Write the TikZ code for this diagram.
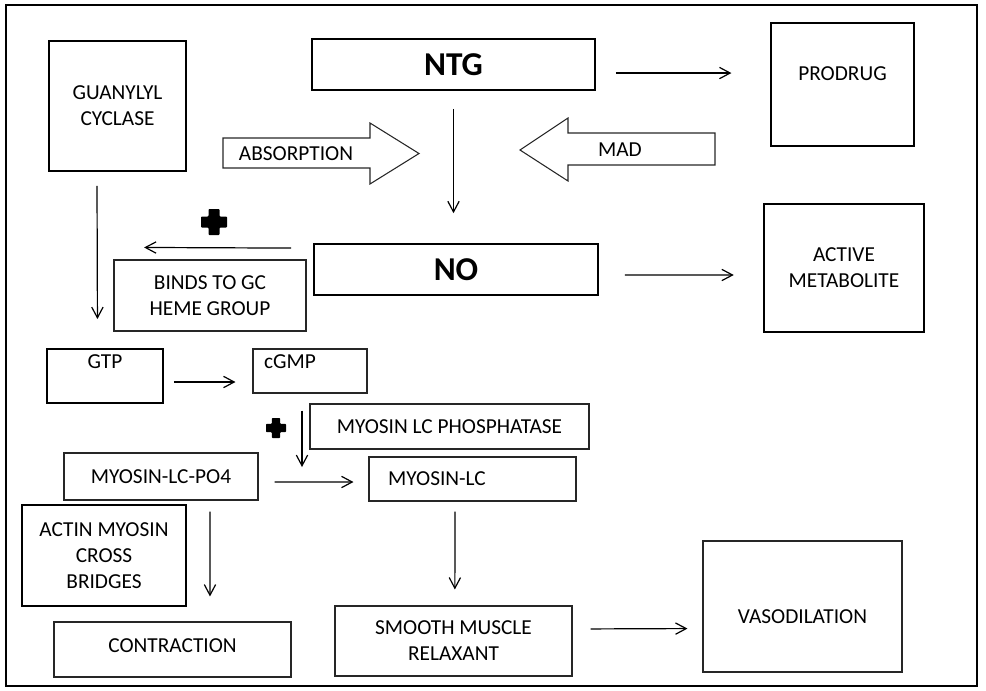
\documentclass[tikz,border=0pt]{standalone}
\usepackage{fontspec}
\setmainfont{Carlito}
\usetikzlibrary{arrows.meta, positioning, calc}

% filled "plus" mark: centre x, centre y, half size, half arm
\newcommand{\heavyplus}[4]{%
  \begin{scope}[shift={(#1,#2)}]
    \fill[rounded corners=0.6pt] (-#4,-#3) -- (#4,-#3) -- (#4,-#4) -- (#3,-#4)
      -- (#3,#4) -- (#4,#4) -- (#4,#3) -- (-#4,#3) -- (-#4,#4) -- (-#3,#4)
      -- (-#3,-#4) -- (-#4,-#4) -- cycle;
  \end{scope}}

\begin{document}
\begin{tikzpicture}[
  x=0.75pt, y=-0.75pt,
  txt/.style={font=\fontsize{16}{19.5}\selectfont, align=center},
  heavybox/.style={
    rectangle, draw=black, line width=1.4pt, inner sep=0pt, txt
  },
  lightbox/.style={
    rectangle, draw=black!85, line width=0.8pt, inner sep=0pt, txt
  },
  drug/.style={heavybox, font=\fontsize{25}{29}\selectfont\bfseries},
  fat/.style={draw=black!85, line width=0.8pt, line join=miter},
  arr/.style={-{Straight Barb[length=8pt,width=8.5pt]}, line width=0.9pt}
]
  \useasboundingbox (0,0) rectangle (986,690);
  \draw[line width=1.6pt] (6,5) rectangle (977,686);

  % top row
  \node[heavybox, minimum width=102.75pt, minimum height=97.5pt] (gc) at (117.5,106) {GUANYLYL\\CYCLASE};
  \node[drug, minimum width=212.25pt, minimum height=38.25pt] (ntg) at (453.5,64.5) {NTG};
  \node[heavybox, minimum width=107.25pt, minimum height=92.25pt,
    label={[txt,yshift=8.25pt]center:PRODRUG}] (prodrug) at (842.5,84.5) {};

  % block arrows
  \draw[fat] (223,138) -- (370,138) -- (370,123) -- (419,153.5) -- (370,184)
    -- (370,168) -- (223,168) -- cycle;
  \node[txt] (absorb) at (296,154) {ABSORPTION};
  \draw[fat] (520,150) -- (568,118) -- (568,133) -- (715,133) -- (715,165)
    -- (568,165) -- (568,181) -- cycle;
  \node[txt] (mad) at (620,150) {MAD};

  \node[drug, line width=1.2pt, minimum width=213pt, minimum height=38.25pt] (no) at (456,269.5) {NO};
  \node[heavybox, minimum width=120pt, minimum height=96pt] (active) at (844,268) {ACTIVE\\METABOLITE};
  \node[lightbox, minimum width=144pt, minimum height=53.25pt] (binds) at (210,295.5) {BINDS TO GC\\HEME GROUP};

  % cGMP pathway
  \node[heavybox, minimum width=87pt, minimum height=40.5pt,
    label={[txt,yshift=10.5pt]center:GTP}] (gtp) at (105,376) {};
  \node[lightbox, minimum width=85.5pt, minimum height=33pt,
    label={[txt,xshift=-15pt,yshift=6.75pt]center:cGMP}] (cgmp) at (310,371) {};
  \node[lightbox, minimum width=209.25pt, minimum height=33.75pt] (phos) at (449.5,426.5) {MYOSIN LC PHOSPHATASE};
  \node[lightbox, minimum width=145.5pt, minimum height=35.25pt] (po4) at (161,476.5) {MYOSIN-LC-PO4};
  \node[lightbox, minimum width=155.25pt, minimum height=33pt,
    label={[txt,xshift=-26.6pt]center:MYOSIN-LC}] (mlc) at (472.5,479) {};
  \coordinate (react) at (302,482);

  % bottom row
  \node[heavybox, line width=1.2pt, minimum width=123pt, minimum height=75.75pt] (actin) at (104,555.5) {ACTIN MYOSIN\\CROSS\\BRIDGES};
  \node[lightbox, minimum width=177.75pt, minimum height=41.25pt,
    label={[txt,yshift=2.6pt]center:CONTRACTION}] (contr) at (172.5,649.5) {};
  \node[lightbox, minimum width=177.75pt, minimum height=52.5pt] (smooth) at (453.5,641) {SMOOTH MUSCLE\\RELAXANT};
  \node[lightbox, minimum width=149.25pt, minimum height=98.25pt,
    label={[txt,yshift=-7.9pt]center:VASODILATION}] (vaso) at (802.5,606.5) {};

  % connectors
  \draw[arr, shorten <=15pt, shorten >=29pt] ([yshift=-6.4pt]ntg.east) -- ([yshift=8.6pt]prodrug.west);
  \draw[arr, shorten <=13.5pt, shorten >=22.5pt] (ntg.south) -- (ntg.south |- no.north);
  \draw[arr, shorten <=19.5pt, shorten >=22pt] ([yshift=-4.1pt]no.east) -- ([yshift=-5.25pt]active.west);
  \draw[arr, shorten <=16.5pt] ([yshift=16pt]no.west) -- ([xshift=23pt,yshift=9pt]binds.north west);
  \draw[arr, shorten <=10.5pt, shorten >=21.75pt] ([xshift=-15.4pt]gc.south) -- ([xshift=-5.6pt]gtp.north);
  \draw[arr, shorten <=7.5pt, shorten >=12.75pt] ([yshift=-4.5pt]gtp.east) -- ([yshift=-8.25pt]cgmp.west);
  \draw[arr, shorten <=12.75pt, shorten >=11.25pt] ([xshift=-6pt]cgmp.south) -- (react);
  \draw[arr, shorten <=12pt, shorten >=11.25pt] ([yshift=-4.1pt]po4.east) -- ([yshift=-2.25pt]mlc.west);
  \draw[arr, shorten <=8.25pt, shorten >=18.75pt] ([xshift=36.75pt]po4.south) -- ([xshift=28.1pt]contr.north);
  \draw[arr, shorten <=7.5pt, shorten >=12pt] ([xshift=-13.1pt]mlc.south) -- ([xshift=1pt]smooth.north);
  \draw[arr, shorten <=13.5pt, shorten >=11.25pt] ([yshift=9pt]smooth.east) -- ([yshift=-16.5pt]vaso.west);

  \heavyplus{214}{222}{13}{5.5}
  \heavyplus{276}{428}{10}{4.2}
\end{tikzpicture}
\end{document}
